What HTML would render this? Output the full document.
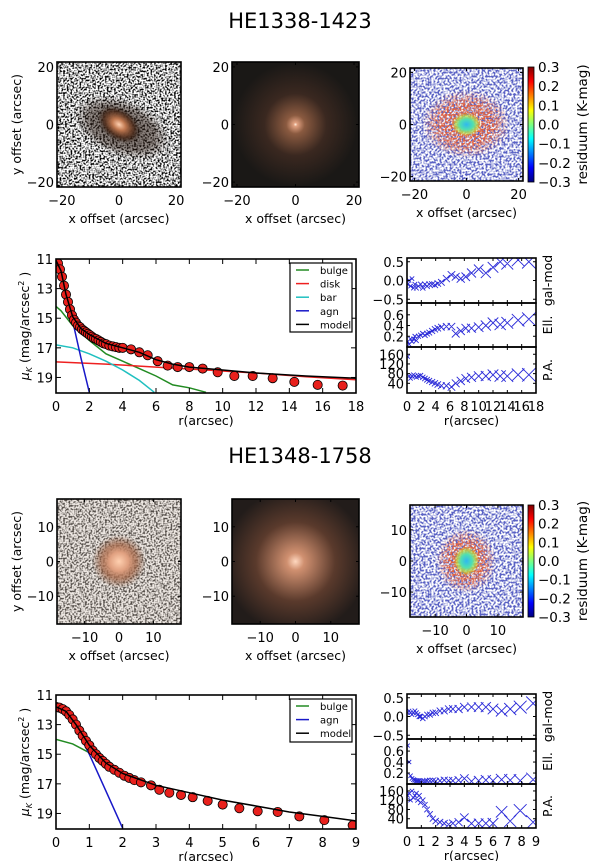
<!DOCTYPE html>
<html><head><meta charset="utf-8"><style>
html,body{margin:0;padding:0;background:#fff}
svg{display:block;font-family:"DejaVu Sans","Liberation Sans",sans-serif}
</style></head><body>
<svg id="fig" width="600" height="861" viewBox="0 0 600 861" xmlns="http://www.w3.org/2000/svg">
<defs>
<filter id="speck" x="0" y="0" width="100%" height="100%"><feTurbulence type="fractalNoise" baseFrequency="0.55" numOctaves="1" seed="4"/><feColorMatrix type="matrix" values="0 0 0 0 0  0 0 0 0 0  0 0 0 0 0  -4 0 0 0 2.3"/></filter>
<filter id="speckB" x="0" y="0" width="100%" height="100%"><feTurbulence type="fractalNoise" baseFrequency="0.5" numOctaves="1" seed="9"/><feColorMatrix type="matrix" values="0 0 0 0 0.1  0 0 0 0 0.12  0 0 0 0 0.55  -5 0 0 0 2.9"/></filter>
<filter id="speckR" x="0" y="0" width="100%" height="100%"><feTurbulence type="fractalNoise" baseFrequency="0.55" numOctaves="1" seed="2"/><feColorMatrix type="matrix" values="0 0 0 0 0.75  0 0 0 0 0.12  0 0 0 0 0.05  -5 0 0 0 3.0"/></filter>
<radialGradient id="maskG"><stop offset="0" stop-color="#fff"/><stop offset="0.6" stop-color="#fff"/><stop offset="1" stop-color="#000"/></radialGradient>
<mask id="ringMask1" maskContentUnits="userSpaceOnUse"><ellipse cx="466" cy="124" rx="44" ry="34" fill="url(#maskG)"/></mask>
<mask id="ringMask2" maskContentUnits="userSpaceOnUse"><ellipse cx="466" cy="561" rx="30" ry="32" fill="url(#maskG)"/></mask>
<radialGradient id="galA"><stop offset="0" stop-color="#ffd0b0"/><stop offset="0.3" stop-color="#c07850"/><stop offset="0.7" stop-color="#4a2a1a" stop-opacity="0.85"/><stop offset="1" stop-color="#2a1a10" stop-opacity="0"/></radialGradient>
<radialGradient id="halo"><stop offset="0" stop-color="#2a1a12" stop-opacity="0.7"/><stop offset="0.7" stop-color="#2a1a12" stop-opacity="0.5"/><stop offset="1" stop-color="#2a1a12" stop-opacity="0"/></radialGradient>
<radialGradient id="galM"><stop offset="0" stop-color="#fff0e0"/><stop offset="0.03" stop-color="#e0a080"/><stop offset="0.15" stop-color="#8a5a40"/><stop offset="0.5" stop-color="#3a2820"/><stop offset="1" stop-color="#1a1816"/></radialGradient>
<radialGradient id="galM2"><stop offset="0" stop-color="#ffd8c0"/><stop offset="0.12" stop-color="#d09070"/><stop offset="0.55" stop-color="#5a3a2c"/><stop offset="1" stop-color="#221c1a"/></radialGradient>
<radialGradient id="galB"><stop offset="0" stop-color="#ffd0b0"/><stop offset="0.35" stop-color="#e0a080"/><stop offset="0.65" stop-color="#a06040" stop-opacity="0.7"/><stop offset="1" stop-color="#7a4a30" stop-opacity="0"/></radialGradient>
<radialGradient id="resC"><stop offset="0" stop-color="#30b8f0"/><stop offset="0.45" stop-color="#50e0b0"/><stop offset="0.75" stop-color="#c0e040" stop-opacity="0.7"/><stop offset="1" stop-color="#e0a020" stop-opacity="0"/></radialGradient>
<linearGradient id="jet" x1="0" y1="1" x2="0" y2="0"><stop offset="0" stop-color="#00007f"/><stop offset="0.125" stop-color="#0000ff"/><stop offset="0.375" stop-color="#00ffff"/><stop offset="0.5" stop-color="#7fff7f"/><stop offset="0.625" stop-color="#ffff00"/><stop offset="0.875" stop-color="#ff0000"/><stop offset="1" stop-color="#7f0000"/></linearGradient>
</defs>
<g id="root"></g>
</svg>
<script>
// ---------- data: galaxy 1 (HE1338-1423) ----------
const p1R = [0,0.12,0.24,0.36,0.48,0.6,0.72,0.84,0.96,1.08,1.2,1.32,1.44,1.56,1.68,1.8,1.92,2.04,2.16,2.28,2.4,2.55,2.7,2.85,3.0,3.2,3.4,3.6,3.8,4.0,4.5,5.0,5.5,6.1,6.7,7.3,8.0,8.8,9.7,10.7,11.8,13.0,14.3,15.7,17.2];
const p1Mu = [11.1,11.3,11.7,12.2,12.8,13.4,13.9,14.4,14.8,15.1,15.3,15.5,15.6,15.75,15.85,15.95,16.05,16.15,16.25,16.35,16.4,16.5,16.6,16.7,16.75,16.85,16.9,16.95,17.0,17.0,17.1,17.3,17.5,17.9,18.2,18.3,18.3,18.4,18.65,18.9,18.9,19.05,19.3,19.5,19.55];
const m1R = [0,0.3,0.6,1.0,1.5,2,3,4,5,6,7,8,10,12,15,18];
const m1Model = [11.1,11.8,13.4,14.9,15.7,16.1,16.7,17.0,17.3,17.8,18.1,18.3,18.5,18.7,18.9,19.05];
const b1R = [0,0.3,1,2,3,4,5,6,7,8,9];
const b1Bulge = [14.2,14.5,15.5,16.5,17.4,17.9,18.4,18.9,19.5,19.7,20.0];
const d1R = [0,3,6,9,12,15,18];
const d1Disk = [17.95,18.1,18.3,18.5,18.7,18.95,19.15];
const bar1R = [0,1,2,3,4,5,5.9];
const bar1Bar = [16.8,17.0,17.4,17.9,18.5,19.2,20.0];
const a1R = [0,0.5,1,1.5,2];
const a1Agn = [11.2,13.0,15.2,17.7,20.0];
const g1R = [0.1,0.3,0.5,0.7,0.9,1.1,1.3,1.6,1.9,2.2,2.5,2.8,3.1,3.5,3.9,4.3,4.8,5.5,6.2,6.8,7.5,8.2,9.0,10,11,12,13,14,15.5,17];
const g1Res = [-0.1,0.0,-0.15,0.05,-0.2,-0.1,-0.2,-0.15,-0.1,-0.2,-0.1,-0.15,-0.1,-0.1,-0.12,-0.08,-0.05,0.05,0.15,0.1,0.05,0.1,0.2,0.3,0.2,0.35,0.5,0.45,0.55,0.5];
const e1Ell = [0.1,0.05,0.15,0.1,0.15,0.2,0.12,0.2,0.22,0.25,0.22,0.25,0.27,0.3,0.33,0.35,0.37,0.38,0.38,0.25,0.3,0.35,0.35,0.37,0.4,0.45,0.42,0.45,0.5,0.52];
const pa1PA = [150,70,60,70,75,70,65,70,72,65,60,55,50,45,40,35,30,30,25,40,50,60,65,70,70,75,70,70,75,75];
// ---------- data: galaxy 2 (HE1348-1758) ----------
const p2R = [0,0.1,0.2,0.3,0.4,0.5,0.6,0.7,0.8,0.9,1.0,1.1,1.2,1.3,1.4,1.5,1.6,1.75,1.9,2.05,2.2,2.35,2.55,2.85,3.1,3.4,3.75,4.1,4.55,5.0,5.5,6.05,6.65,7.3,8.05,8.9];
const p2Mu = [11.8,11.85,11.95,12.1,12.35,12.65,13.0,13.4,13.75,14.1,14.4,14.75,15.0,15.25,15.45,15.65,15.85,16.05,16.25,16.45,16.6,16.75,16.9,17.1,17.4,17.6,17.75,17.9,18.15,18.4,18.65,18.85,18.9,19.2,19.45,19.8];
const m2R = [0,0.3,0.6,1.0,1.5,2,3,4,5,6,7,8,9];
const m2Model = [11.8,12.1,13.0,14.4,15.6,16.3,17.1,17.6,18.1,18.5,18.9,19.2,19.5];
const b2R = [0,0.5,1,1.5,1.7];
const b2Bulge = [14.0,14.3,14.9,15.6,16.0];
const a2R = [0,0.5,1,1.5,2];
const a2Agn = [11.9,12.8,15.0,17.5,20.0];
const g2R = [0.05,0.15,0.25,0.35,0.45,0.55,0.65,0.75,0.85,0.95,1.1,1.25,1.4,1.6,1.8,2.0,2.3,2.6,2.9,3.2,3.6,4.0,4.5,5.0,5.5,6.0,6.6,7.2,7.9,8.8];
const g2Res = [0.1,0.15,0.1,0.05,0.1,0.15,0.1,0.05,0.0,0.0,-0.05,0.0,0.05,0.05,0.1,0.1,0.15,0.15,0.2,0.2,0.2,0.25,0.25,0.25,0.25,0.2,0.15,0.2,0.25,0.35];
const e2Ell = [0.7,0.4,0.15,0.1,0.08,0.07,0.06,0.06,0.06,0.05,0.05,0.05,0.06,0.06,0.06,0.05,0.06,0.07,0.06,0.06,0.07,0.1,0.05,0.06,0.07,0.06,0.08,0.07,0.06,0.08];
const pa2PA = [140,150,120,160,130,140,150,120,140,110,120,100,80,60,40,30,25,20,15,20,25,45,20,20,20,20,70,30,75,25];

const NS="http://www.w3.org/2000/svg";
const root=document.getElementById('root');
function el(tag,attrs,parent,text){const e=document.createElementNS(NS,tag);for(const k in attrs)e.setAttribute(k,attrs[k]);if(text!==undefined)e.textContent=text;(parent||root).appendChild(e);return e;}
function lin(d0,d1,r0,r1){return v=>r0+(v-d0)/(d1-d0)*(r1-r0);}

function frameAxes(g,x0,y0,x1,y1,xt,yt,sx,sy,opts){
  const tl=opts.tl||4, fs=opts.fs||13;
  xt.forEach(v=>{const X=sx(v);
    el('line',{x1:X,y1:y1,x2:X,y2:y1-tl,stroke:'#000','stroke-width':1},g);
    el('line',{x1:X,y1:y0,x2:X,y2:y0+tl,stroke:'#000','stroke-width':1},g);
    if(opts.xlab){const t=el('text',{x:X,y:y1+18,'text-anchor':'middle','font-size':fs},g,opts.xfmt?opts.xfmt(v):String(v).replace('-','\u2212'));
      
      }
  });
  yt.forEach(v=>{const Y=sy(v);
    el('line',{x1:x0,y1:Y,x2:x0+tl,y2:Y,stroke:'#000','stroke-width':1},g);
    el('line',{x1:x1,y1:Y,x2:x1-tl,y2:Y,stroke:'#000','stroke-width':1},g);
    const t=el('text',{x:x0-3,y:Y+5,'text-anchor':'end','font-size':fs},g,opts.yfmt?opts.yfmt(v):String(v).replace('-','\u2212'));
    
    
  });
  el('rect',{x:x0,y:y0,width:x1-x0,height:y1-y0,fill:'none',stroke:'#000','stroke-width':1.6},g);
}
function pathFrom(xs,ys,sx,sy){return xs.map((v,i)=>(i?'L':'M')+sx(v).toFixed(1)+','+sy(ys[i]).toFixed(1)).join(' ');}

function imagePanel(name,x0,y0,w,h,kind,ticks,range,ylabel,gal){
  const g=el('g',{});
  
  
  const cid='clip'+name;
  const cp=el('clipPath',{id:cid},g);el('rect',{x:x0,y:y0,width:w,height:h},cp);
  const ig=el('g',{'clip-path':'url(#'+cid+')'},g);
  const cx=x0+w/2,cy=y0+h/2;
  if(kind==='obs1'){
    el('rect',{x:x0,y:y0,width:w,height:h,fill:'#fff'},ig);
    el('rect',{x:x0,y:y0,width:w,height:h,filter:'url(#speck)'},ig);
    el('ellipse',{cx:cx+4,cy:cy+2,rx:50,ry:28,fill:'url(#halo)',transform:`rotate(22 ${cx} ${cy})`},ig);
    el('ellipse',{cx:cx,cy:cy,rx:24,ry:16,fill:'url(#galA)',transform:`rotate(35 ${cx} ${cy})`},ig);
  } else if(kind==='mod1'){
    el('rect',{x:x0,y:y0,width:w,height:h,fill:'#1a1816'},ig);
    el('circle',{cx:cx,cy:cy,r:62,fill:'url(#galM)'},ig);
  } else if(kind==='res'){
    el('rect',{x:x0,y:y0,width:w,height:h,fill:'#fff'},ig);
    el('rect',{x:x0,y:y0,width:w,height:h,filter:'url(#speckB)'},ig);
    el('rect',{x:x0,y:y0,width:w,height:h,filter:'url(#speckR)',mask:'url(#ringMask'+gal+')'},ig);
    if(gal===1) el('ellipse',{cx:cx,cy:cy,rx:15,ry:12,fill:'url(#resC)'},ig);
    else el('ellipse',{cx:cx,cy:cy,rx:13,ry:15,fill:'url(#resC)'},ig);
  } else if(kind==='obs2'){
    el('rect',{x:x0,y:y0,width:w,height:h,fill:'#fff'},ig);
    el('rect',{x:x0,y:y0,width:w,height:h,filter:'url(#speck)','opacity':0.7},ig);
    el('rect',{x:x0,y:y0,width:w,height:h,fill:'#8a5a3a','fill-opacity':0.14},ig);
    el('circle',{cx:cx,cy:cy,r:27,fill:'url(#galB)'},ig);
  } else if(kind==='mod2'){
    el('rect',{x:x0,y:y0,width:w,height:h,fill:'#221c1a'},ig);
    el('circle',{cx:cx,cy:cy,r:72,fill:'url(#galM2)'},ig);
  }
  const sx=lin(-range,range,x0,x0+w), sy=lin(-range,range,y0+h,y0);
  frameAxes(g,x0,y0,x0+w,y0+h,ticks,ticks,sx,sy,{xlab:true,tl:3});
  const xl=el('text',{x:x0+w/2,y:y0+h+36,'text-anchor':'middle','font-size':12.5},g,'x offset (arcsec)');
  
  
  if(ylabel){const yl=el('text',{x:0,y:0,'text-anchor':'middle','font-size':12.5,transform:`translate(21 ${y0+h/2}) rotate(-90)`},g,'y offset (arcsec)');
    
    }
}

function colorbar(name,x,y0,y1){
  const g=el('g',{});
  
  
  el('rect',{x:x,y:y0,width:6,height:y1-y0,fill:'url(#jet)',stroke:'#000','stroke-width':0.8},g);
  const cbTicks=[0.3,0.2,0.1,0.0,-0.1,-0.2,-0.3];
  const s=lin(-0.3,0.3,y1,y0);
  cbTicks.forEach(v=>{el('text',{x:x+10,y:s(v)+5,'font-size':13.5},g,(v<0?'\u2212':'')+Math.abs(v).toFixed(1));});
  el('text',{x:0,y:0,'text-anchor':'middle','font-size':13.5,transform:`translate(587 ${(y0+y1)/2}) rotate(-90)`},g,'residuum (K-mag)');
}

function profile(name,x0,y0,x1,y1,xmax,xt,pR,pMu,comps,legendH){
  const g=el('g',{});
  
  
  const sx=lin(0,xmax,x0,x1), sy=lin(11,20.05,y0,y1);
  const cid='c'+name;const cp=el('clipPath',{id:cid},g);el('rect',{x:x0,y:y0,width:x1-x0,height:y1-y0},cp);
  const pg=el('g',{'clip-path':'url(#'+cid+')'},g);
  comps.filter(c=>c.n!=='model').forEach(c=>{const p=el('path',{d:pathFrom(c.x,c.y,sx,sy),fill:'none',stroke:c.c,'stroke-width':1.5},pg);
    
    });
  pR.forEach((r,i)=>{const c=el('circle',{cx:sx(r),cy:sy(pMu[i]),r:4.6,fill:'#e8201c',stroke:'#000','stroke-width':0.8},pg);
    
    });
  comps.filter(c=>c.n==='model').forEach(c=>{const p=el('path',{d:pathFrom(c.x,c.y,sx,sy),fill:'none',stroke:'#000','stroke-width':1.5},pg);
    
    });
  frameAxes(g,x0,y0,x1,y1,xt,[11,13,15,17,19],sx,sy,{xlab:true,tl:5});
  const xl=el('text',{x:(x0+x1)/2,y:y1+32,'text-anchor':'middle','font-size':12.5},g,'r(arcsec)');
  
  
  const yl=el('text',{x:0,y:0,'text-anchor':'middle','font-size':12.5,transform:`translate(29 ${(y0+y1)/2}) rotate(-90)`},g);
  yl.innerHTML='<tspan font-style="italic">μ</tspan><tspan font-size="8" dy="3" font-style="italic">K</tspan><tspan dy="-3"> (mag/arcsec</tspan><tspan font-size="8" dy="-5">2</tspan><tspan dy="5"> )</tspan>';
  
  
  const lg=el('g',{},g);
  
  
  el('rect',{x:290,y:y0+4,width:62,height:legendH,fill:'#fff',stroke:'#000','stroke-width':1.2},lg);
  comps.forEach((c,i)=>{const yy=y0+15+i*13.6;
    const e=el('g',{},lg);
    
    
    el('line',{x1:296,y1:yy-4,x2:309,y2:yy-4,stroke:c.c,'stroke-width':1.5},e);
    el('text',{x:320,y:yy,'font-size':10},e,c.n);});
}

function small(name,x0,x1,y0s,xmax,xt,R,series){
  const g=el('g',{});
  
  
  const sx=lin(0,xmax,x0,x1);
  series.forEach((s,k)=>{
    const ya=y0s[k], yb=y0s[k+1];
    const sy=lin(s.min,s.max,yb,ya);
    const cid='s'+name+k;const cp=el('clipPath',{id:cid},g);el('rect',{x:x0,y:ya,width:x1-x0,height:yb-ya},cp);
    const pg=el('g',{'clip-path':'url(#'+cid+')'},g);
    let d='';
    R.forEach((r,i)=>{const X=sx(r),Y=sy(s.v[i]);const h=2+ (r/xmax)*5;
      d+=`M${(X-h).toFixed(1)},${(Y-h).toFixed(1)}L${(X+h).toFixed(1)},${(Y+h).toFixed(1)}M${(X-h).toFixed(1)},${(Y+h).toFixed(1)}L${(X+h).toFixed(1)},${(Y-h).toFixed(1)}`;});
    const p=el('path',{d:d,stroke:'#2a2ad8','stroke-width':0.9,fill:'none'},pg);
    
    
    frameAxes(g,x0,ya,x1,yb,xt,s.ticks,sx,sy,{xlab:k===series.length-1,tl:3,yfmt:s.fmt,xfmt:v=>String(v)});
    el('text',{x:0,y:0,'text-anchor':'middle','font-size':12.5,transform:`translate(552 ${(ya+yb)/2}) rotate(-90)`},g,s.label);
  });
  const xl=el('text',{x:(x0+x1)/2,y:y0s[3]+32,'text-anchor':'middle','font-size':12.5},g,'r(arcsec)');
  
  
}

let t=el('text',{x:300,y:28,'text-anchor':'middle','font-size':21},root,'HE1338-1423');


t=el('text',{x:300,y:463,'text-anchor':'middle','font-size':21},root,'HE1348-1758');



imagePanel('observed-image-1',57,62,124,125,'obs1',[-20,0,20],21.7,true,1);
imagePanel('model-image-1',232,62,127,125,'mod1',[-20,0,20],21.7,false,1);
imagePanel('residual-image-1',410,68,113,113,'res',[-20,0,20],21.7,false,1);
colorbar('colorbar-1',528,67,182);
imagePanel('observed-image-2',57,499,124,125,'obs2',[-10,0,10],18,true,2);
imagePanel('model-image-2',232,499,127,125,'mod2',[-10,0,10],18,false,2);
imagePanel('residual-image-2',410,505,113,112,'res',[-10,0,10],18,false,2);
colorbar('colorbar-2',528,505,617);

profile('profile-1',56,259,356,393,18,[0,2,4,6,8,10,12,14,16,18],p1R,p1Mu,[
 {n:'bulge',c:'#228b22',x:b1R,y:b1Bulge},{n:'disk',c:'#ee2020',x:d1R,y:d1Disk},{n:'bar',c:'#20c0c0',x:bar1R,y:bar1Bar},
 {n:'agn',c:'#1818c8',x:a1R,y:a1Agn},{n:'model',c:'#000',x:m1R,y:m1Model}],69);
profile('profile-2',56,695,356,829,9,[0,1,2,3,4,5,6,7,8,9],p2R,p2Mu,[
 {n:'bulge',c:'#228b22',x:b2R,y:b2Bulge},{n:'agn',c:'#1818c8',x:a2R,y:a2Agn},{n:'model',c:'#000',x:m2R,y:m2Model}],43);

const f1=v=>(v<0?'\u2212':'')+Math.abs(v).toFixed(1);
small('residual-panels-1',407,536,[258,303,347,393],18,[0,2,4,6,8,10,12,14,16,18],g1R,[
 {label:'gal-mod',min:-0.6,max:0.6,ticks:[-0.5,0,0.5],v:g1Res,fmt:f1},
 {label:'Ell.',min:0,max:0.82,ticks:[0.2,0.4,0.6],v:e1Ell,fmt:f1},
 {label:'P.A.',min:0,max:190,ticks:[40,80,120,160],v:pa1PA,fmt:v=>String(v)}]);
small('residual-panels-2',407,536,[694,739,784,828],9,[0,1,2,3,4,5,6,7,8,9],g2R,[
 {label:'gal-mod',min:-0.6,max:0.6,ticks:[-0.5,0,0.5],v:g2Res,fmt:f1},
 {label:'Ell.',min:0,max:0.82,ticks:[0.2,0.4,0.6],v:e2Ell,fmt:f1},
 {label:'P.A.',min:0,max:190,ticks:[40,80,120,160],v:pa2PA,fmt:v=>String(v)}]);
</script>
</body></html>
